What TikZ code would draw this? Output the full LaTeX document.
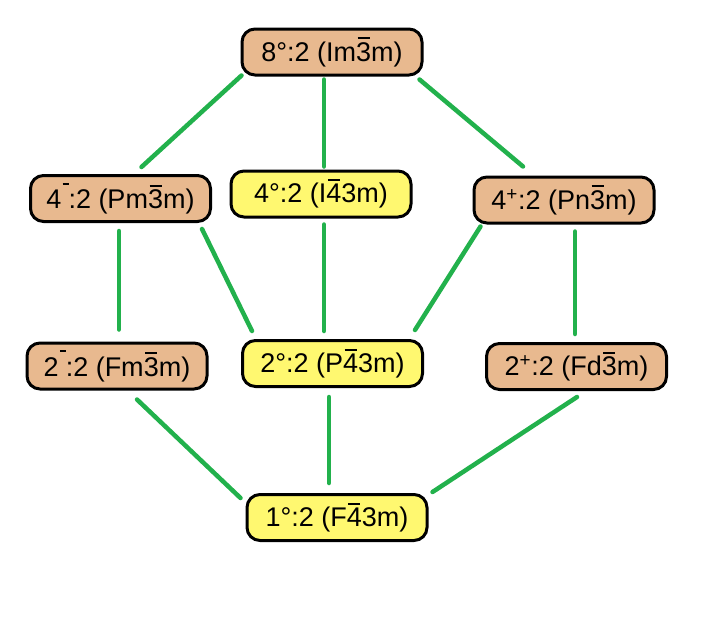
\documentclass[tikz,border=0pt]{standalone}
\usepackage{fontspec}
\setmainfont{Liberation Sans}
\definecolor{tanbox}{RGB}{232,185,143}
\definecolor{yelbox}{RGB}{255,248,112}
\definecolor{linkgreen}{RGB}{34,177,76}
\newcommand{\ob}[1]{\leavevmode\setbox0\hbox{#1}\rlap{\hspace{1.5pt}\rule[\dimexpr\ht0+3pt\relax]{\dimexpr\wd0-3pt\relax}{2pt}}\box0\relax}
\newcommand{\mdash}{\kern1pt\rule[24pt]{6pt}{2pt}}
\begin{document}
\begin{tikzpicture}[x=1pt,y=-1pt,
    grp/.style={draw=black, line width=3pt, rounded corners=13pt,
      minimum width=180pt, minimum height=46pt, inner sep=0pt,
      font=\fontsize{27}{32}\selectfont},
    odd/.style={grp, fill=tanbox},
    even/.style={grp, fill=yelbox},
    link/.style={draw=linkgreen, line width=4.5pt, line cap=round}]
    \useasboundingbox (0,0) rectangle (711,635);
    % top
    \node[odd] (n8) at (332,52) {8°:2 (Im\ob{3}m)};
    % second row
    \node[odd] (n4m) at (120.5,198.5) {4\mdash:2 (Pm\ob{3}m)};
    \node[even] (n4o) at (321,194) {4°:2 (I\ob{4}3m)};
    \node[odd] (n4p) at (564,200) {4\textsuperscript{+}:2 (Pn\ob{3}m)};
    % third row
    \node[odd] (n2m) at (117,366) {2\mdash:2 (Fm\ob{3}m)};
    \node[even] (n2o) at (332.5,363.5) {2°:2 (P\ob{4}3m)};
    \node[odd] (n2p) at (576.5,366.5) {2\textsuperscript{+}:2 (Fd\ob{3}m)};
    % bottom
    \node[even] (n1o) at (337,517.5) {1°:2 (F\ob{4}3m)};
    % links
    \draw[link] ([shift={(1,-1)}]n8.south west) -- ([shift={(21,-7)}]n4m.north);
    \draw[link] ([shift={(-8,3)}]n8.south) -- ([shift={(3,-3)}]n4o.north);
    \draw[link] ([shift={(-4,3)}]n8.south east) -- ([shift={(-41,-9)}]n4p.north);
    \draw[link] ([shift={(-1.5,8)}]n4m.south) -- ([shift={(2,-12)}]n2m.north);
    \draw[link] ([shift={(-10,6)}]n4m.south east) -- ([shift={(11,-8)}]n2o.north west);
    \draw[link] ([shift={(3,6)}]n4o.south) -- ([shift={(-8.5,-8)}]n2o.north);
    \draw[link] ([shift={(8,2)}]n4p.south west) -- ([shift={(-9,-9)}]n2o.north east);
    \draw[link] ([shift={(11,7)}]n4p.south) -- ([shift={(-1.5,-8)}]n2p.north);
    \draw[link] ([shift={(20,9)}]n2m.south) -- ([shift={(-5,5)}]n1o.north west);
    \draw[link] ([shift={(-3.5,9)}]n2o.south) -- ([shift={(-8,-10)}]n1o.north);
    \draw[link] ([shift={(0.5,6)}]n2p.south) -- ([shift={(4,-1)}]n1o.north east);
\end{tikzpicture}
\end{document}
